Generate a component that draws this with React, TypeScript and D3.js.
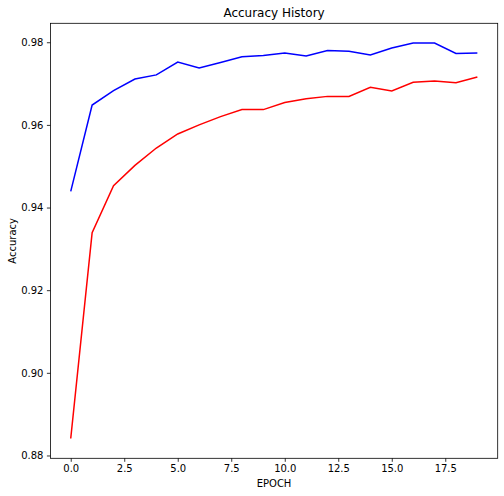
import { useEffect, useRef } from 'react'
import * as d3 from 'd3'

const epochs = d3.range(20)

const trainAcc = [
  0.8841, 0.9339, 0.9453, 0.9502, 0.9544, 0.9578, 0.96, 0.962, 0.9637, 0.9637,
  0.9654, 0.9663, 0.9669, 0.9669, 0.9691, 0.9682, 0.9703, 0.9706, 0.9702, 0.9716,
]

const valAcc = [
  0.9439, 0.9648, 0.9683, 0.9711, 0.9721, 0.9752, 0.9738, 0.9751, 0.9765, 0.9768,
  0.9774, 0.9767, 0.978, 0.9778, 0.9769, 0.9786, 0.9798, 0.9798, 0.9773, 0.9774,
]

const xTicks = [0, 2.5, 5, 7.5, 10, 12.5, 15, 17.5]
const yTicks = [0.88, 0.9, 0.92, 0.94, 0.96, 0.98]

const W = 504
const H = 496
const margin = { top: 23.3, right: 6.3, bottom: 37.7, left: 50.4 }
const font = '"DejaVu Sans", sans-serif'

export default function App() {
  const ref = useRef<SVGSVGElement>(null)

  useEffect(() => {
    if (!ref.current) return
    const svg = d3.select(ref.current)
    svg.selectAll('*').remove()

    const left = margin.left
    const right = W - margin.right
    const top = margin.top
    const bottom = H - margin.bottom

    // matplotlib-style 5% margins around the data
    const xPad = (epochs[epochs.length - 1] - epochs[0]) * 0.05
    const x = d3
      .scaleLinear()
      .domain([epochs[0] - xPad, epochs[epochs.length - 1] + xPad])
      .range([left, right])

    const all = [...trainAcc, ...valAcc]
    const lo = d3.min(all)!
    const hi = d3.max(all)!
    const yPad = (hi - lo) * 0.05
    const y = d3.scaleLinear().domain([lo - yPad, hi + yPad]).range([bottom, top])

    const line = d3
      .line<number>()
      .x((_, i) => x(epochs[i]))
      .y((d) => y(d))

    svg
      .append('path')
      .datum(trainAcc)
      .attr('d', line)
      .attr('fill', 'none')
      .attr('stroke', '#ff0000')
      .attr('stroke-width', 1.5)

    svg
      .append('path')
      .datum(valAcc)
      .attr('d', line)
      .attr('fill', 'none')
      .attr('stroke', '#0000ff')
      .attr('stroke-width', 1.5)

    // X axis
    svg
      .append('g')
      .attr('transform', `translate(0,${bottom})`)
      .call(
        d3.axisBottom(x)
          .tickValues(xTicks)
          .tickSizeInner(3.5)
          .tickSizeOuter(0)
          .tickPadding(3.5)
          .tickFormat((v) => (v as number).toFixed(1))
      )
      .call((sel) => sel.select('.domain').remove())
      .call((sel) => sel.selectAll('line').attr('stroke', '#000').attr('stroke-width', 0.8))
      .call((sel) =>
        sel.selectAll('text').attr('font-size', 10).attr('font-family', font).attr('fill', '#000')
      )

    // Y axis
    svg
      .append('g')
      .attr('transform', `translate(${left},0)`)
      .call(
        d3.axisLeft(y)
          .tickValues(yTicks)
          .tickSizeInner(3.5)
          .tickSizeOuter(0)
          .tickPadding(3.5)
          .tickFormat((v) => (v as number).toFixed(2))
      )
      .call((sel) => sel.select('.domain').remove())
      .call((sel) => sel.selectAll('line').attr('stroke', '#000').attr('stroke-width', 0.8))
      .call((sel) =>
        sel.selectAll('text').attr('font-size', 10).attr('font-family', font).attr('fill', '#000')
      )

    // Frame
    svg
      .append('rect')
      .attr('x', left)
      .attr('y', top)
      .attr('width', right - left)
      .attr('height', bottom - top)
      .attr('fill', 'none')
      .attr('stroke', '#000')
      .attr('stroke-width', 0.8)

    svg
      .append('text')
      .attr('x', (left + right) / 2)
      .attr('y', top - 6)
      .attr('text-anchor', 'middle')
      .attr('font-size', 12)
      .attr('font-family', font)
      .text('Accuracy History')

    svg
      .append('text')
      .attr('x', (left + right) / 2)
      .attr('y', H - 9)
      .attr('text-anchor', 'middle')
      .attr('font-size', 10)
      .attr('font-family', font)
      .text('EPOCH')

    svg
      .append('text')
      .attr('transform', `translate(15.5,${(top + bottom) / 2}) rotate(-90)`)
      .attr('text-anchor', 'middle')
      .attr('font-size', 10)
      .attr('font-family', font)
      .text('Accuracy')
  }, [])

  return (
    <svg
      ref={ref}
      width={W}
      height={H}
      style={{ position: 'absolute', left: 0, top: 0, background: '#fff' }}
    />
  )
}
